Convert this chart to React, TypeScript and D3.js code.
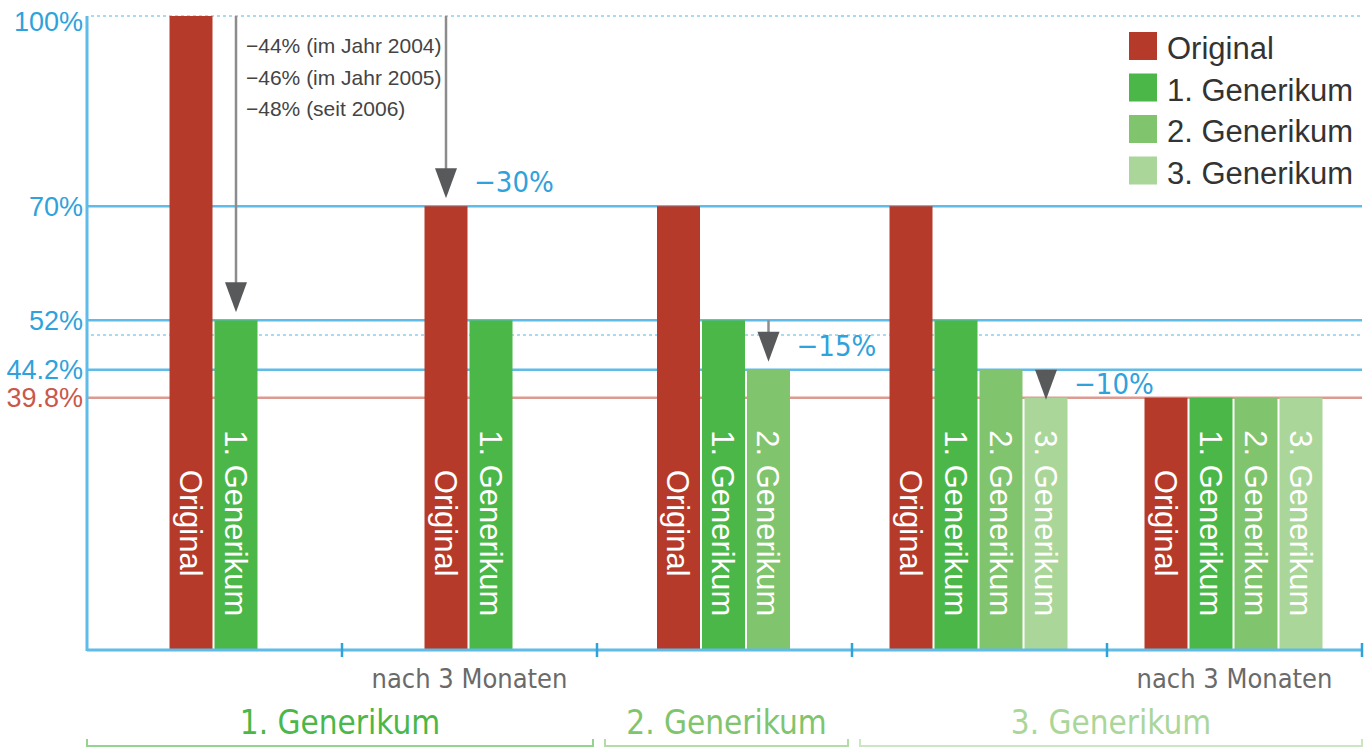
import React, { useRef, useEffect } from 'react';
import * as d3 from 'd3';

const series = ['Original', '1. Generikum', '2. Generikum', '3. Generikum'];
const seriesColors = ['#b63a29', '#4bb748', '#80c46d', '#abd699'];

// price in % of the original, one list per column group
const groupValues: number[][] = [
  [100, 52],
  [70, 52],
  [70, 52, 44.2],
  [70, 52, 44.2, 39.8],
  [39.8, 39.8, 39.8, 39.8],
];
const groupNotes = ['', 'nach 3 Monaten', '', '', 'nach 3 Monaten'];

const levelValues = [100, 70, 52, 44.2, 39.8];
const levelLabels = ['100%', '70%', '52%', '44.2%', '39.8%'];
const dottedLevels = [100, 49.7];

const phaseLabels = ['1. Generikum', '2. Generikum', '3. Generikum'];
const phaseFirstGroup = [0, 2, 3];
const phaseLastGroup = [1, 2, 4];

// price cuts (arrows)
const cutGroups = [0, 1, 2, 3];
const cutBars = [1, 0, 2, 3];
const cutFrom = [100, 100, 52, 44.2];
const cutTo = [52, 70, 44.2, 39.8];
const cutLabels = ['', '\u221230%', '\u221215%', '\u221210%'];
const firstCutNotes = ['\u221244% (im Jahr 2004)', '\u221246% (im Jahr 2005)', '\u221248% (seit 2006)'];

const FONT = '"Liberation Sans", Arial, sans-serif';
const NARROW = '"Liberation Sans Narrow", "DejaVu Sans Condensed", "Liberation Sans", sans-serif';

const PriceChart: React.FC = () => {
  const svgRef = useRef<SVGSVGElement | null>(null);

  useEffect(() => {
    if (!svgRef.current) return;
    const svg = d3.select(svgRef.current);
    svg.selectAll('*').remove();

    const left = 87;
    const right = 1362;
    const bottom = 650;
    const blue = '#5fbce8';
    const blueText = '#2fa2dc';

    const x = d3.scaleBand<number>()
      .domain(d3.range(groupValues.length))
      .range([left, right])
      .padding(0);

    const y = d3.scaleLinear().domain([0, 100]).range([bottom, 16]);

    const barStep = 45;
    const barX = (g: number, b: number) => {
      const n = groupValues[g].length;
      const c = x(g)! + x.bandwidth() / 2;
      const inner = d3.scaleBand<number>()
        .domain(d3.range(n))
        .range([c - (n * barStep) / 2, c + (n * barStep) / 2]);
      return inner(b)!;
    };

    // level lines
    svg.append('g')
      .selectAll('line')
      .data(levelValues.slice(1))
      .join('line')
      .attr('x1', left)
      .attr('x2', right)
      .attr('y1', d => y(d))
      .attr('y2', d => y(d))
      .attr('stroke', (d, i) => (i === levelValues.length - 2 ? '#dd9a90' : blue))
      .attr('stroke-width', 2.5);

    svg.append('g')
      .selectAll('line')
      .data(dottedLevels)
      .join('line')
      .attr('x1', left + 4)
      .attr('x2', right)
      .attr('y1', d => y(d))
      .attr('y2', d => y(d))
      .attr('stroke', '#a9daf2')
      .attr('stroke-width', 2)
      .attr('stroke-dasharray', '3 3');

    // level labels
    svg.append('g')
      .selectAll('text')
      .data(levelValues)
      .join('text')
      .attr('x', left - 4)
      .attr('y', d => y(d) + (d === 100 ? 5 : 0))
      .attr('dy', '0.36em')
      .attr('text-anchor', 'end')
      .attr('font-family', FONT)
      .attr('font-size', 27)
      .attr('fill', (d, i) => (i === levelValues.length - 1 ? '#c9584c' : blueText))
      .text((d, i) => levelLabels[i]);

    // bars
    groupValues.forEach((vals, g) => {
      const gg = svg.append('g');
      gg.selectAll('rect')
        .data(vals)
        .join('rect')
        .attr('x', (d, b) => barX(g, b))
        .attr('width', barStep - 2)
        .attr('y', d => y(d))
        .attr('height', d => y(0) - y(d))
        .attr('fill', (d, b) => seriesColors[b]);

      gg.selectAll('text')
        .data(vals)
        .join('text')
        .attr('transform', (d, b) => `translate(${barX(g, b) + (barStep - 2) / 2},${y(20)}) rotate(90)`)
        .attr('text-anchor', 'middle')
        .attr('dy', '0.36em')
        .attr('font-family', FONT)
        .attr('font-size', 31)
        .attr('fill', '#fff')
        .text((d, b) => series[b]);
    });

    // axes
    svg.append('line')
      .attr('x1', left).attr('x2', left)
      .attr('y1', y(100)).attr('y2', bottom + 1)
      .attr('stroke', blue).attr('stroke-width', 3);
    svg.append('line')
      .attr('x1', left).attr('x2', right)
      .attr('y1', bottom).attr('y2', bottom)
      .attr('stroke', blue).attr('stroke-width', 3);
    svg.append('g')
      .selectAll('line')
      .data(d3.range(1, groupValues.length + 1))
      .join('line')
      .attr('x1', g => (g < groupValues.length ? x(g)! : right))
      .attr('x2', g => (g < groupValues.length ? x(g)! : right))
      .attr('y1', bottom - 7)
      .attr('y2', bottom + 7)
      .attr('stroke', '#2fa2dc')
      .attr('stroke-width', 2.5);

    // notes under groups
    svg.append('g')
      .selectAll('text')
      .data(groupNotes)
      .join('text')
      .attr('x', (d, g) => x(g)! + x.bandwidth() / 2)
      .attr('y', 688)
      .attr('text-anchor', 'middle')
      .attr('font-family', NARROW)
      .attr('font-size', 27)
      .attr('fill', '#6a6a6a')
      .text(d => d);

    // phases
    const phase = svg.append('g');
    phaseLabels.forEach((label, p) => {
      const x0 = x(phaseFirstGroup[p])! + (p > 0 ? 8 : 0);
      const x1 = phaseLastGroup[p] === groupValues.length - 1 ? right : x(phaseLastGroup[p])! + x.bandwidth() - 4;
      const col = seriesColors[p + 1];
      phase.append('text')
        .attr('x', (x0 + x1) / 2)
        .attr('y', 734)
        .attr('text-anchor', 'middle')
        .attr('font-family', NARROW)
        .attr('font-size', 33)
        .attr('fill', col)
        .text(label);
      phase.append('path')
        .attr('d', `M${x0},739 V746 H${x1} V739`)
        .attr('fill', 'none')
        .attr('stroke', col)
        .attr('stroke-opacity', 0.6)
        .attr('stroke-width', 2);
    });

    // price cut arrows
    const arrows = svg.append('g');
    const headH = 30;
    const headW = 22;
    cutGroups.forEach((g, i) => {
      const ax = barX(g, cutBars[i]) + (barStep - 2) / 2;
      const top = y(cutFrom[i]);
      const tip = Math.max(y(cutTo[i]) - 8, top + headH);
      arrows.append('line')
        .attr('x1', ax).attr('x2', ax)
        .attr('y1', top).attr('y2', tip - headH + 2)
        .attr('stroke', '#8c8c8c')
        .attr('stroke-width', 2.5);
      arrows.append('path')
        .attr('d', `M${ax - headW / 2},${tip - headH} L${ax + headW / 2},${tip - headH} L${ax},${tip} Z`)
        .attr('fill', '#58595b');
      if (cutLabels[i]) {
        arrows.append('text')
          .attr('x', ax + 28)
          .attr('y', tip - 6)
          .attr('font-family', NARROW)
          .attr('font-size', 29)
          .attr('fill', blueText)
          .text(cutLabels[i]);
      } else {
        arrows.selectAll('text.note')
          .data(firstCutNotes)
          .join('text')
          .attr('class', 'note')
          .attr('x', ax + 10)
          .attr('y', (d, k) => 53 + k * 31.5)
          .attr('font-family', FONT)
          .attr('font-size', 21)
          .attr('fill', '#444')
          .text(d => d);
      }
    });

    // legend
    const legend = svg.append('g').attr('transform', 'translate(1129,32)');
    series.forEach((s, i) => {
      legend.append('rect')
        .attr('x', 0)
        .attr('y', i * 41.5)
        .attr('width', 28)
        .attr('height', 28)
        .attr('fill', seriesColors[i]);
      legend.append('text')
        .attr('x', 38)
        .attr('y', i * 41.5 + 27)
        .attr('font-family', FONT)
        .attr('font-size', 31)
        .attr('fill', '#333')
        .text(s);
    });
  }, []);

  return (
    <svg
      ref={svgRef}
      width={1367}
      height={751}
      style={{ position: 'absolute', left: 0, top: 0, background: '#fff' }}
    ></svg>
  );
};

export default function App() {
  return <PriceChart />;
}
